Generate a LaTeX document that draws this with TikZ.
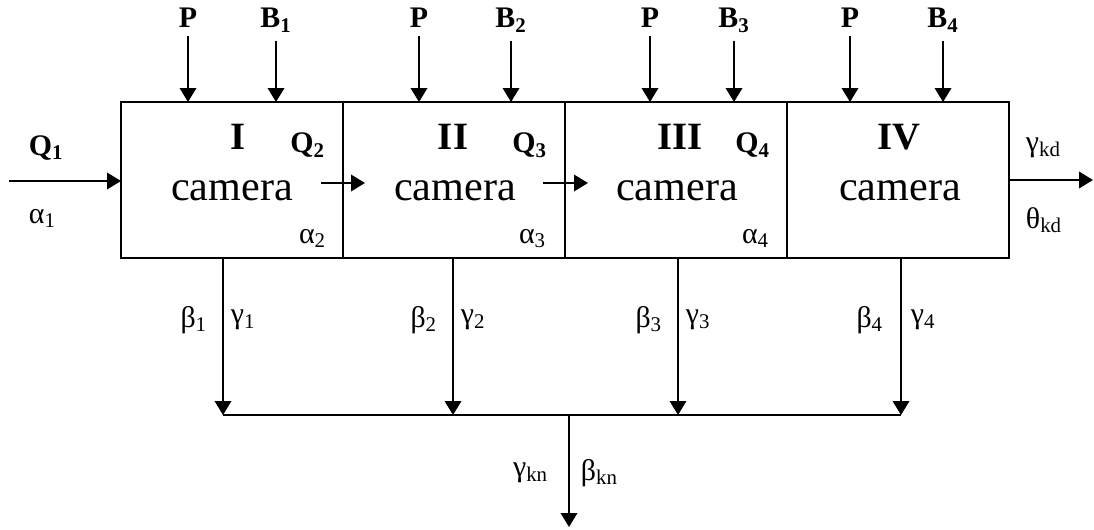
\documentclass[tikz,border=0pt]{standalone}
\usepackage{fontspec}
\setmainfont{Liberation Serif}
\usepackage{tikz}
\usetikzlibrary{arrows.meta,positioning}

\begin{document}
\begin{tikzpicture}[
  x=0.02cm, y=-0.02cm,
  line width=1.1pt,
  chamber/.style={draw, line width=1.1pt, minimum width=4.44cm, minimum height=3.12cm, inner sep=0pt, outer sep=0pt},
  roman/.style={font=\fontsize{22}{25}\selectfont\bfseries, inner sep=0pt},
  camtext/.style={font=\fontsize{24}{28}\selectfont, inner sep=0pt},
  inlbl/.style={font=\fontsize{17}{19}\selectfont\bfseries, inner sep=4pt},
  grk/.style={font=\fontsize{17}{19}\selectfont, inner sep=0pt},
  >={Triangle[length=2.8mm,width=3.3mm]}
]
\useasboundingbox (0,0) rectangle (1094,530);
% chambers
\node[chamber] (c1) at (232,180) {};
\node[chamber, right=0pt of c1] (c2) {};
\node[chamber, right=0pt of c2] (c3) {};
\node[chamber, right=0pt of c3] (c4) {};
\node[roman, anchor=base] (n1) at (238,150) {I};
\node[roman, anchor=base] (n2) at (453,150) {II};
\node[roman, anchor=base] (n3) at (680,150) {III};
\node[roman, anchor=base] (n4) at (899,150) {IV};
\node[camtext, anchor=base] (m1) at (232,200) {camera};
\node[camtext, anchor=base] (m2) at (455,200) {camera};
\node[camtext, anchor=base] (m3) at (677,200) {camera};
\node[camtext, anchor=base] (m4) at (900,200) {camera};
% flow labels inside
\node[inlbl, inner sep=0pt, anchor=base east] (q2) at (326,153) {Q\textsubscript{2}};
\node[inlbl, inner sep=0pt, anchor=base east] (q3) at (548,153) {Q\textsubscript{3}};
\node[inlbl, inner sep=0pt, anchor=base east] (q4) at (771,153) {Q\textsubscript{4}};
\node[grk, anchor=base east] (a2) at (327,243) {α\textsubscript{2}};
\node[grk, anchor=base east] (a3) at (547,243) {α\textsubscript{3}};
\node[grk, anchor=base east] (a4) at (770,243) {α\textsubscript{4}};
% feeds on top
\node[inlbl, anchor=base] (p1) at (188,28) {P};
\node[inlbl, anchor=base] (b1) at (276,28) {B\textsubscript{1}};
\node[inlbl, anchor=base] (p2) at (419,28) {P};
\node[inlbl, anchor=base] (b2) at (511,28) {B\textsubscript{2}};
\node[inlbl, anchor=base] (p3) at (650,28) {P};
\node[inlbl, anchor=base] (b3) at (734,28) {B\textsubscript{3}};
\node[inlbl, anchor=base] (p4) at (850,28) {P};
\node[inlbl, anchor=base] (b4) at (943,28) {B\textsubscript{4}};
\draw[->] (p1.south) -- (p1.south |- c1.north);
\draw[->] (b1.south) -- (b1.south |- c1.north);
\draw[->] (p2.south) -- (p2.south |- c2.north);
\draw[->] (b2.south) -- (b2.south |- c2.north);
\draw[->] (p3.south) -- (p3.south |- c3.north);
\draw[->] (b3.south) -- (b3.south |- c3.north);
\draw[->] (p4.south) -- (p4.south |- c4.north);
\draw[->] (b4.south) -- (b4.south |- c4.north);
% inlet and outlet
\coordinate (src) at (9,181);
\coordinate (snk) at (1093,180);
\node[inlbl, inner sep=0pt, anchor=base west] (q1) at (28,155) {Q\textsubscript{1}};
\node[grk, anchor=base west] (a1) at (28,223) {α\textsubscript{1}};
\draw[->] (src) -- (src -| c1.west);
\node[grk, anchor=west] (gkd) at (1025,148) {γ\textsubscript{kd}};
\node[grk, anchor=west] (tkd) at (1025,220) {θ\textsubscript{kd}};
\draw[->] (c4) -- (snk);
% transfer between chambers
\coordinate (t12a) at (321,183);
\coordinate (t12b) at (365,183);
\coordinate (t23a) at (543,183);
\coordinate (t23b) at (588,183);
\draw[->] (t12a) -- (t12b);
\draw[->] (t23a) -- (t23b);
% drains and collector
\coordinate (d1) at (223,415);
\coordinate (d2) at (453,415);
\coordinate (d3) at (678,415);
\coordinate (d4) at (901,415);
\coordinate (sum) at (569,415);
\coordinate (sink) at (569,527);
\draw[->] (d1 |- c1.south) -- (d1);
\draw[->] (d2 |- c2.south) -- (d2);
\draw[->] (d3 |- c3.south) -- (d3);
\draw[->] (d4 |- c4.south) -- (d4);
\draw (d1) -- (d4);
\draw[->] (sum) -- (sink);
\node[grk, anchor=east] (be1) at (208,320) {β\textsubscript{1}};
\node[grk, anchor=west] (ga1) at (230,320) {γ\textsubscript{1}};
\node[grk, anchor=east] (be2) at (438,320) {β\textsubscript{2}};
\node[grk, anchor=west] (ga2) at (460,320) {γ\textsubscript{2}};
\node[grk, anchor=east] (be3) at (663,320) {β\textsubscript{3}};
\node[grk, anchor=west] (ga3) at (685,320) {γ\textsubscript{3}};
\node[grk, anchor=east] (be4) at (884,320) {β\textsubscript{4}};
\node[grk, anchor=west] (ga4) at (910,320) {γ\textsubscript{4}};
\node[grk, anchor=east] (gkn) at (549,473) {γ\textsubscript{kn}};
\node[grk, anchor=west] (bkn) at (580,473) {β\textsubscript{kn}};
\end{tikzpicture}
\end{document}
